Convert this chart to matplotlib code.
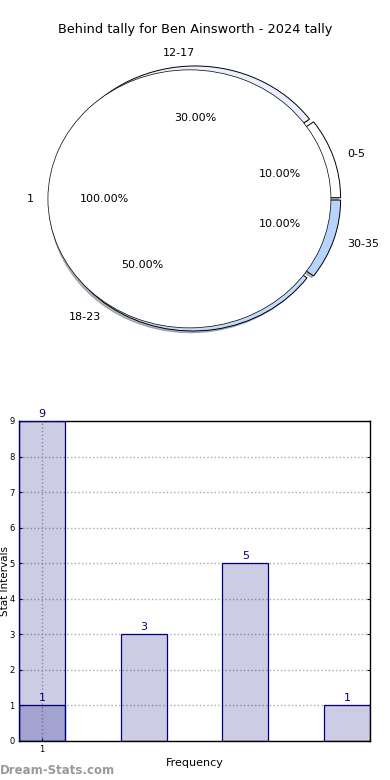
import matplotlib
matplotlib.use("Agg")
import matplotlib.pyplot as plt

# ---- data ----
title = "Behind tally for Ben Ainsworth - 2024 tally"
outer_labels = ["0-5", "12-17", "18-23", "30-35"]
outer_values = [1, 3, 5, 1]
outer_colors = ["#ffffff", "#eaf0fd", "#c4dafc", "#b7d4fd"]
inner_labels = ["1"]
inner_values = [1]

bar_values = [9, 3, 5, 1]
overlay_values = [1]
xtick_labels = ["1"]
ylabel = "Stat Intervals"
xlabel = "Frequency"

fig = plt.figure(figsize=(3.9, 7.8), dpi=100)

# ---- pie ----
ax1 = fig.add_axes([0.0467, 0.5383, 0.907, 0.4135])
wedges, texts, autotexts = ax1.pie(
    outer_values, labels=outer_labels, colors=outer_colors,
    explode=[0.03] * 4, shadow={"ox": -0.01, "oy": -0.01, "shade": 0.5},
    autopct="%.2f%%", pctdistance=0.6,
    labeldistance=1.1, startangle=0, counterclock=True,
    wedgeprops=dict(edgecolor="black", linewidth=0.7),
    textprops=dict(fontsize=8))
w2, t2, a2 = ax1.pie(
    inner_values, labels=inner_labels, colors=["#ffffff"],
    explode=[0.04], autopct="%.2f%%", pctdistance=0.6, labeldistance=1.1,
    startangle=0, wedgeprops=dict(edgecolor="black", linewidth=0.5),
    textprops=dict(fontsize=8))
ax1.set_aspect("auto")
ax1.set_xlim(-1.25, 1.25)
ax1.set_ylim(-1.25, 1.25)

fig.text(0.5, 1 - 30 / 780, title, ha="center", va="center", fontsize=9.3)

# ---- bars ----
ax2 = fig.add_axes([0.0487, 0.05, 0.9, 0.4103])
x = list(range(len(bar_values)))
ax2.bar(x, bar_values, width=0.45, color="navy", alpha=0.2, zorder=2)
ax2.bar(x, bar_values, width=0.45, facecolor="none", edgecolor="navy",
        linewidth=0.9, zorder=3)
xo = list(range(len(overlay_values)))
ax2.bar(xo, overlay_values, width=0.45, color="navy", alpha=0.2, zorder=2)
ax2.bar(xo, overlay_values, width=0.45, facecolor="none", edgecolor="navy",
        linewidth=0.9, zorder=3)
for xi, v in zip(x, bar_values):
    ax2.annotate(str(v), (xi, v), xytext=(0, 1.5), textcoords="offset points",
                 ha="center", va="bottom", color="navy", fontsize=8)
for xi, v in zip(xo, overlay_values):
    ax2.annotate(str(v), (xi, v), xytext=(0, 1.5), textcoords="offset points",
                 ha="center", va="bottom", color="navy", fontsize=8)

ax2.set_xlim(-0.225, len(bar_values) - 1 + 0.225)
ax2.set_ylim(0, 9)
ax2.set_yticks(range(0, 10))
ax2.set_xticks([0])
ax2.set_xticklabels(xtick_labels)
ax2.tick_params(axis="both", labelsize=6, length=2, direction="in",
                right=True, top=False, pad=3)
ax2.grid(True, linestyle=":", color="#aaaaaa", linewidth=1.0, zorder=1)
ax2.set_axisbelow(True)
ax2.set_ylabel(ylabel, fontsize=7.5)
ax2.yaxis.set_label_coords(-0.027, 0.5)
ax2.set_xlabel(xlabel, fontsize=8, labelpad=3)
for s in ax2.spines.values():
    s.set_linewidth(1.0)

fig.text(0.0, 1 - 770 / 780, "Dream-Stats.com", ha="left", va="center",
         fontsize=8.5, color="#999999", fontweight="bold")

fig.savefig("out.png", dpi=100)
